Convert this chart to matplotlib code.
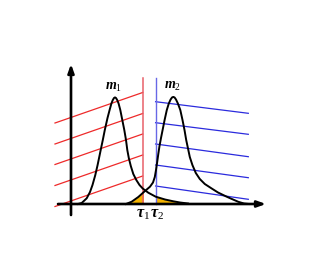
import matplotlib
matplotlib.use("Agg")
import matplotlib.pyplot as plt
from matplotlib.patches import Rectangle

# ---- data (chart units, origin at axis crossing) ----
m1_x = [7, 10.7, 15.7, 19, 21.5, 24.3, 26.6, 29.7, 31.8, 33.8, 36.5, 38.6, 40.4, 41.8, 43, 44, 45, 46.2,
        47.6, 49.3, 51.3, 53.3, 55, 56.3, 57.8, 59.8, 62.3, 65.3, 68.5, 71.7, 77.3, 84.7, 94, 102.3, 109, 117]
m1_y = [0, 1, 5.7, 12, 19, 29, 39, 54, 64, 74, 86, 94, 100.5, 104, 106, 106.6, 106, 104,
        100.5, 94, 84, 74, 64, 54, 46, 38, 30, 24, 19, 15.5, 11.3, 7.3, 4.5, 2.7, 1.5, 0.5]
m2_x = [55, 60.7, 67.3, 74, 79, 82, 83.8, 85, 86.2, 87.3, 88.5, 90, 91.6, 93.6, 95.8, 97.8, 99.6, 101,
        102.3, 103.6, 105, 106.9, 109.3, 111.5, 113.5, 115.2, 116.9, 118.8, 121.4, 124.8, 128.8,
        133.8, 140.7, 147, 155.7, 162, 167.3, 173, 178]
m2_y = [0, 2.3, 7, 13, 17.3, 21.5, 27, 34, 42, 50, 58, 66, 74, 84, 94, 100.5, 104.5, 106.5,
        107.1, 106.5, 104.5, 100.5, 94, 84, 74, 64, 56, 47, 39, 31, 25,
        20, 15.5, 11.5, 7.3, 4.5, 2.2, 0.5, 0]
tau1, tau2 = 71.7, 84.6
tau_top = 126
red_x = [-16, 71.7]
red_left = [81, 60, 39.5, 18.5, -2.5]
red_right = [111.5, 90.5, 70, 49, 28]
blue_x = [84.6, 177.3]
blue_left = [102.3, 81.3, 60, 39, 18]
blue_right = [90.7, 69.7, 47.3, 26.3, 4.7]
labels_m = [r"$m_1$", r"$m_2$"]
labels_tau = [r"$\tau_1$", r"$\tau_2$"]

plt.rcParams['mathtext.fontset'] = 'custom'
plt.rcParams['mathtext.it'] = 'Liberation Serif:italic:bold'
plt.rcParams['mathtext.rm'] = 'Liberation Serif'
plt.rcParams['mathtext.bf'] = 'Liberation Serif:bold'

fig = plt.figure(figsize=(3.27, 2.73), dpi=100)
ax = fig.add_axes([0, 0, 1, 1])
ax.set_xlim(-71, 256)
ax.set_ylim(-69, 204)
ax.axis('off')

yellow = '#F5B400'
f1 = ax.fill_between(m2_x, 0, m2_y, color=yellow, lw=0, zorder=1)
f1.set_clip_path(Rectangle((-100, -10), 100 + tau1, 300, transform=ax.transData))
f2 = ax.fill_between(m1_x, 0, m1_y, color=yellow, lw=0, zorder=1)
f2.set_clip_path(Rectangle((tau2, -10), 200, 300, transform=ax.transData))

red = '#EE2A2A'
blue = '#2B2BDD'
for l, r in zip(red_left, red_right):
    ax.plot(red_x, [l, r], color=red, lw=0.9, zorder=2)
for l, r in zip(blue_left, blue_right):
    ax.plot(blue_x, [l, r], color=blue, lw=0.9, zorder=2)

ax.plot([tau1, tau1], [0, tau_top], color='#E8606A', lw=1.1, zorder=2)
ax.plot([tau2, tau2], [0, tau_top], color='#6868E6', lw=1.0, zorder=2)

ax.plot(m1_x, m1_y, color='black', lw=1.4, zorder=3, solid_joinstyle='round')
ax.plot(m2_x, m2_y, color='black', lw=1.4, zorder=3, solid_joinstyle='round')

ax.annotate('', xy=(195, 0), xytext=(-13, 0),
            arrowprops=dict(arrowstyle='-|>,head_length=0.5,head_width=0.18', color='black', lw=1.9,
                            shrinkA=0, shrinkB=0), zorder=4)
ax.annotate('', xy=(0, 140), xytext=(0, -11),
            arrowprops=dict(arrowstyle='-|>,head_length=0.5,head_width=0.18', color='black', lw=1.9,
                            shrinkA=0, shrinkB=0), zorder=4)

ax.text(43, 117, labels_m[0], fontsize=10, ha='center', va='center')
ax.text(102, 118, labels_m[1], fontsize=10, ha='center', va='center')
ax.text(72.5, -10, labels_tau[0], fontsize=11.5, ha='center', va='center')
ax.text(86, -10, labels_tau[1], fontsize=11.5, ha='center', va='center')

fig.savefig('out.png', dpi=100)
